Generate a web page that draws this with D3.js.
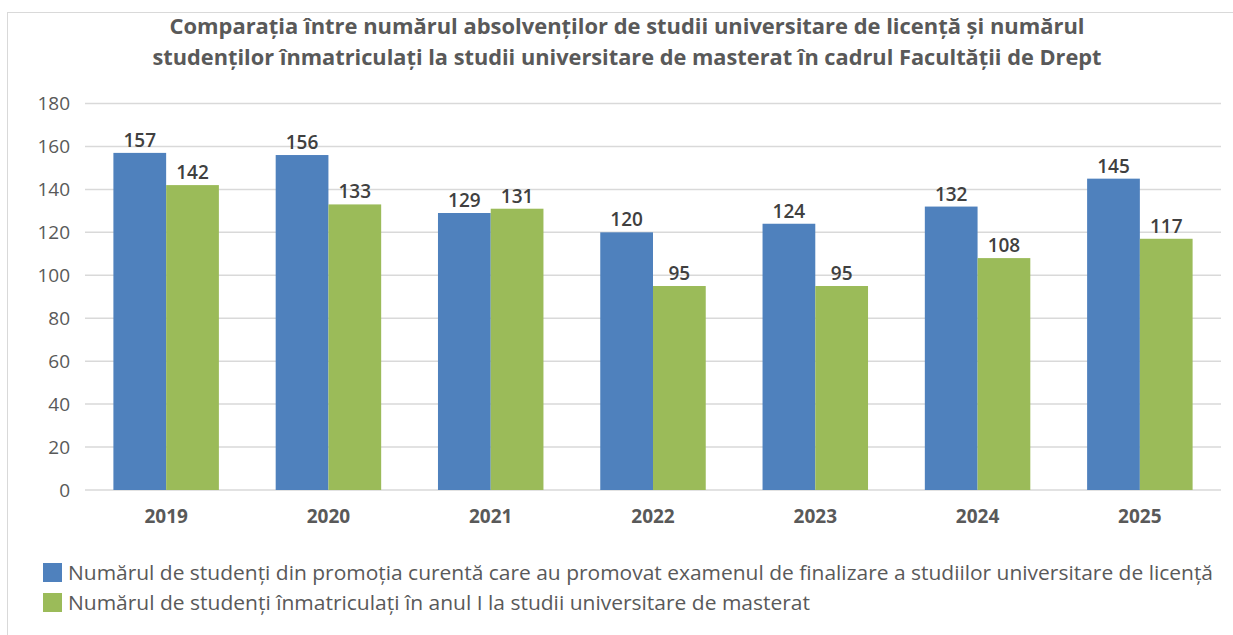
<!DOCTYPE html>
<html>
<head>
<meta charset="utf-8">
<script src="https://cdn.jsdelivr.net/npm/d3@7"></script>
<style>
    body { margin: 0; background: #fff; }
    svg { display: block; font-family: 'Open Sans', 'Noto Sans', sans-serif; }
</style>
</head>
<body>
<div id="chart"></div>
<script>
var years = ['2019', '2020', '2021', '2022', '2023', '2024', '2025']
var absolventi = [157, 156, 129, 120, 124, 132, 145]
var inmatriculati = [142, 133, 131, 95, 95, 108, 117]
var yTicks = [0, 20, 40, 60, 80, 100, 120, 140, 160, 180]
var seriesNames = [
    'Numărul de studenți din promoția curentă care au promovat examenul de finalizare a studiilor universitare de licență',
    'Numărul de studenți înmatriculați în anul I la studii universitare de masterat'
]
var titleLines = [
    'Comparația între numărul absolvenților de studii universitare de licență și numărul',
    'studenților înmatriculați la studii universitare de masterat în cadrul Facultății de Drept'
]
var colors = ['#4f81bd', '#9bbb59']

var svgWidth = 1233,
    svgHeight = 635

var margin = { top: 103.5, right: 12, bottom: 145, left: 85 }
var width = svgWidth - margin.left - margin.right,
    height = svgHeight - margin.top - margin.bottom

var svg = d3.select('#chart').append('svg')
    .attr('width', svgWidth)
    .attr('height', svgHeight)

// outer frame of the chart area
svg.append('rect')
    .attr('x', 7.5).attr('y', 12.5)
    .attr('width', svgWidth).attr('height', svgHeight)
    .attr('fill', 'none')
    .attr('stroke', '#d9d9d9')

svg.append('g')
    .selectAll('text')
    .data(titleLines)
    .join('text')
    .attr('x', 627)
    .attr('y', (d, i) => 34 + i * 31)
    .attr('text-anchor', 'middle')
    .attr('font-size', 21)
    .attr('font-weight', 'bold')
    .attr('fill', '#595959')
    .attr('textLength', (d, i) => i ? 949 : 915)
    .attr('lengthAdjust', 'spacingAndGlyphs')
    .text(d => d)

var g = svg.append('g')
    .attr('transform', 'translate(' + margin.left + ',' + margin.top + ')')

var x0 = d3.scaleBand()
    .domain(years)
    .range([0, width])
    .paddingInner(0.35)
    .paddingOuter(0.175)

var x1 = d3.scaleBand()
    .domain([0, 1])
    .range([0, x0.bandwidth()])

var y = d3.scaleLinear()
    .domain([0, 180])
    .range([height, 0])

// gridlines
g.append('g')
    .selectAll('line')
    .data(yTicks)
    .join('line')
    .attr('x1', 0)
    .attr('x2', width)
    .attr('y1', d => y(d))
    .attr('y2', d => y(d))
    .attr('stroke', '#d9d9d9')
    .attr('stroke-width', 1.5)

var yAxis = g.append('g')
    .call(d3.axisLeft(y).tickValues(yTicks).tickSize(0).tickPadding(15))
yAxis.select('.domain').remove()
yAxis.selectAll('text')
    .attr('font-size', 19)
    .attr('fill', '#595959')
    .attr('font-family', "'Open Sans', sans-serif")

var xAxis = g.append('g')
    .attr('transform', 'translate(0,' + height + ')')
    .call(d3.axisBottom(x0).tickSize(0).tickPadding(20))
xAxis.select('.domain').remove()
xAxis.selectAll('text')
    .attr('font-size', 19)
    .attr('font-weight', 'bold')
    .attr('fill', '#595959')
    .attr('font-family', "'Open Sans', sans-serif")

var rows = years.map((yr, i) => ({ year: yr, values: [absolventi[i], inmatriculati[i]] }))

var groups = g.selectAll('.group')
    .data(rows)
    .join('g')
    .attr('class', 'group')
    .attr('transform', d => 'translate(' + x0(d.year) + ',0)')

groups.selectAll('rect')
    .data(d => d.values.map((v, k) => ({ k: k, v: v })))
    .join('rect')
    .attr('x', d => x1(d.k))
    .attr('width', x1.bandwidth())
    .attr('y', d => y(d.v))
    .attr('height', d => height - y(d.v))
    .attr('fill', d => colors[d.k])

groups.selectAll('.label')
    .data(d => d.values.map((v, k) => ({ k: k, v: v })))
    .join('text')
    .attr('class', 'label')
    .attr('x', d => x1(d.k) + x1.bandwidth() / 2)
    .attr('y', d => y(d.v) - 6)
    .attr('text-anchor', 'middle')
    .attr('font-size', 19)
    .attr('font-weight', 600)
    .attr('fill', '#404040')
    .text(d => d.v)

// legend
var legend = svg.append('g')
    .selectAll('g')
    .data(seriesNames)
    .join('g')
    .attr('transform', (d, i) => 'translate(43,' + (563 + i * 30) + ')')

legend.append('rect')
    .attr('width', 19)
    .attr('height', 19)
    .attr('fill', (d, i) => colors[i])

legend.append('text')
    .attr('x', 25)
    .attr('y', 17)
    .attr('font-size', 20)
    .attr('fill', '#595959')
    .attr('textLength', (d, i) => i ? 742 : 1145)
    .attr('lengthAdjust', 'spacingAndGlyphs')
    .text(d => d)
</script>
</body>
</html>
